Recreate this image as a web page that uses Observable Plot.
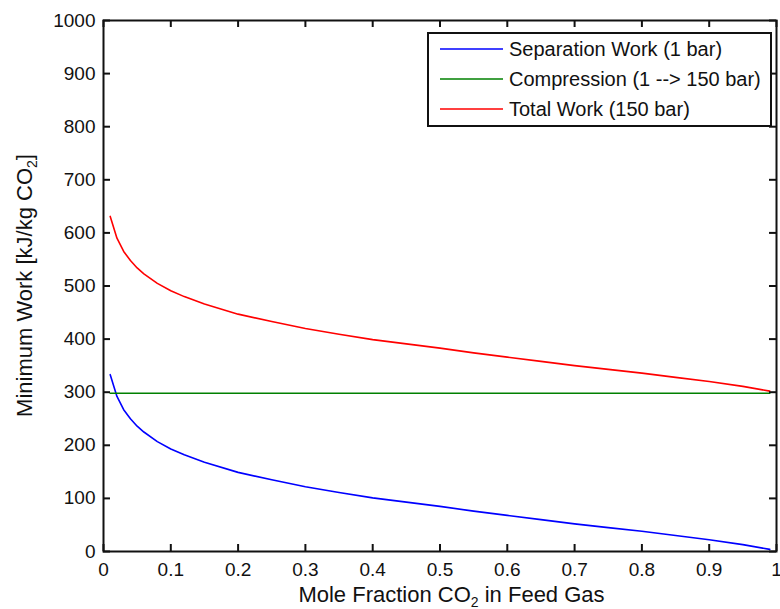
<!DOCTYPE html>
<html>
<head>
<meta charset="utf-8">
<script src="https://cdn.jsdelivr.net/npm/d3@7"></script>
<script src="https://cdn.jsdelivr.net/npm/@observablehq/plot@0.6"></script>
<style>
  html, body { margin: 0; padding: 0; background: #fff; }
  #wrap { position: relative; width: 780px; height: 609px; font-family: "Liberation Sans", Arial, sans-serif; }
  #legend { position: absolute; left: 427px; top: 32px; width: 345px; height: 95px; border: 2px solid #111; background: #fff; box-sizing: border-box; font-size: 20px; color: #111; }
  .row { position: absolute; left: 0; height: 30px; display: flex; align-items: center; white-space: nowrap; }
  .row svg { margin-left: 11px; margin-right: 6px; }
</style>
</head>
<body>
<div id="wrap"></div>
<script>
const moleFraction = [0.01, 0.02, 0.03, 0.04, 0.05, 0.06, 0.08, 0.10, 0.12, 0.15, 0.20, 0.25, 0.30, 0.35, 0.40, 0.45, 0.50, 0.55, 0.60, 0.65, 0.70, 0.75, 0.80, 0.85, 0.90, 0.95, 0.99];
const separationWork = [333, 292, 267, 250, 236, 225, 207, 193, 182, 168, 149, 135, 122, 111, 101, 93, 85, 76, 68, 60, 52, 45, 38, 30, 22, 13, 4];
const compressionWork = [298, 298, 298, 298, 298, 298, 298, 298, 298, 298, 298, 298, 298, 298, 298, 298, 298, 298, 298, 298, 298, 298, 298, 298, 298, 298, 298];
const totalWork = [631, 590, 565, 548, 534, 523, 505, 491, 480, 466, 447, 433, 420, 409, 399, 391, 383, 374, 366, 358, 350, 343, 336, 328, 320, 311, 302];
const seriesNames = ["Separation Work (1 bar)", "Compression (1 --> 150 bar)", "Total Work (150 bar)"];
const seriesColors = ["#0000ff", "#008000", "#ff0000"];
const xTicks = [0, 0.1, 0.2, 0.3, 0.4, 0.5, 0.6, 0.7, 0.8, 0.9, 1];
const xTickLabels = ["0", "0.1", "0.2", "0.3", "0.4", "0.5", "0.6", "0.7", "0.8", "0.9", "1"];
const yTicks = [0, 100, 200, 300, 400, 500, 600, 700, 800, 900, 1000];
const yTickLabels = ["0", "100", "200", "300", "400", "500", "600", "700", "800", "900", "1000"];

const rows = [];
[separationWork, compressionWork, totalWork].forEach((vals, s) => {
  moleFraction.forEach((x, i) => rows.push({x, y: vals[i], series: seriesNames[s]}));
});

const W = 780, H = 609, mT = 20, mL = 103, mR = 4, mB = 58;
const frameW = W - mL - mR, frameH = H - mT - mB;
const tickLen = 7;
const tickStyle = {stroke: "#111", strokeWidth: 2};

const plot = Plot.plot({
  width: W,
  height: H,
  marginTop: mT,
  marginLeft: mL,
  marginRight: mR,
  marginBottom: mB,
  style: {fontFamily: "Liberation Sans, Arial, sans-serif", fontSize: "19px", color: "#111", background: "#fff", overflow: "visible"},
  x: {domain: [0, 1]},
  y: {domain: [0, 1000]},
  color: {domain: seriesNames, range: seriesColors},
  marks: [
    Plot.line(rows, {x: "x", y: "y", z: "series", stroke: "series", strokeWidth: 1.6}),
    Plot.frame({stroke: "#111", strokeWidth: 2}),
    // inward tick marks on all four sides
    Plot.tickX(xTicks, {x: d => d, insetTop: frameH - tickLen, ...tickStyle}),
    Plot.tickX(xTicks, {x: d => d, insetBottom: frameH - tickLen, ...tickStyle}),
    Plot.tickY(yTicks, {y: d => d, insetRight: frameW - tickLen, ...tickStyle}),
    Plot.tickY(yTicks, {y: d => d, insetLeft: frameW - tickLen, ...tickStyle}),
    // tick labels
    Plot.axisX({anchor: "bottom", ticks: xTicks, tickSize: 0, tickPadding: 11, tickFormat: (d, i) => xTickLabels[i], label: null}),
    Plot.axisY({anchor: "left", ticks: yTicks, tickSize: 0, tickPadding: 8, tickFormat: (d, i) => yTickLabels[i], label: null})
  ]
});

document.getElementById("wrap").appendChild(plot);

// Axis titles with subscripts
const svg = d3.select(plot);
const xr = plot.scale("x").range, yr = plot.scale("y").range;
const xt = svg.append("text")
  .attr("x", (xr[0] + xr[1]) / 2 + 12)
  .attr("y", 602)
  .attr("text-anchor", "middle")
  .attr("fill", "#111")
  .style("font-size", "22px");
xt.append("tspan").text("Mole Fraction CO");
xt.append("tspan").attr("dy", 5).style("font-size", "14px").text("2");
xt.append("tspan").attr("dy", -5).text(" in Feed Gas");

const yt = svg.append("text")
  .attr("transform", `translate(32,${(yr[0] + yr[1]) / 2}) rotate(-90)`)
  .attr("text-anchor", "middle")
  .attr("fill", "#111")
  .style("font-size", "22px");
yt.append("tspan").text("Minimum Work [kJ/kg CO");
yt.append("tspan").attr("dy", 5).style("font-size", "14px").text("2");
yt.append("tspan").attr("dy", -5).text("]");

// Legend
const legend = document.createElement("div");
legend.id = "legend";
seriesNames.forEach((name, i) => {
  const row = document.createElement("div");
  row.className = "row";
  row.style.top = (i * 30) + "px";
  row.innerHTML = `<svg width="63" height="4"><line x1="0" x2="63" y1="2" y2="2" stroke="${seriesColors[i]}" stroke-width="1.6"/></svg><span>${name}</span>`;
  legend.appendChild(row);
});
document.getElementById("wrap").appendChild(legend);
</script>
</body>
</html>
